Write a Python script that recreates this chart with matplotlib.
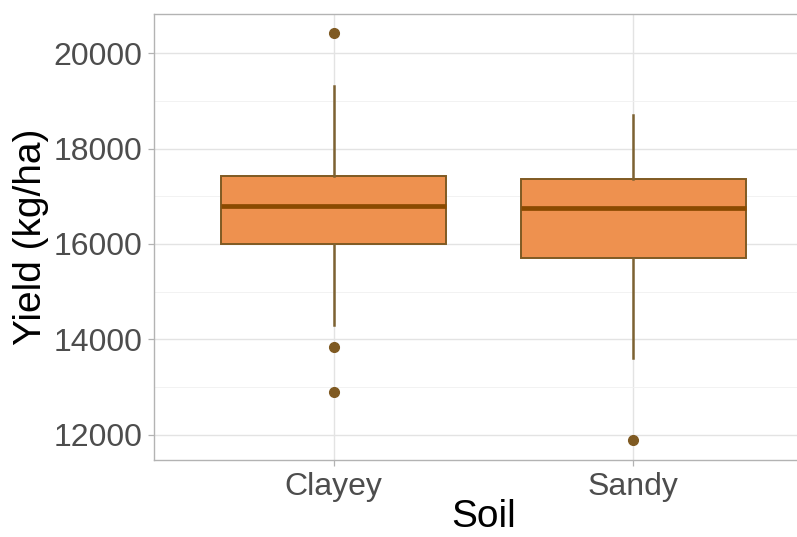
import matplotlib
matplotlib.use("Agg")
import matplotlib.pyplot as plt
from matplotlib.ticker import MultipleLocator

categories = ["Clayey", "Sandy"]
q1 = [16010, 15700]
median = [16790, 16750]
q3 = [17420, 17370]
whisker_low = [14300, 13610]
whisker_high = [19310, 18700]
outliers = [[20420, 13840, 12890], [11890]]
y_ticks = [12000, 14000, 16000, 18000, 20000]

plt.rcParams["font.family"] = ["Liberation Sans", "DejaVu Sans"]

fig = plt.figure(figsize=(7.97, 5.37), dpi=100)
W, H = 797, 537
left, right, top, bottom = 154, 813, 14, 460
ax = fig.add_axes([left / W, 1 - bottom / H, (right - left) / W, (bottom - top) / H])

fill = "#EE914F"
edge = "#7F5A22"
med_c = "#8A4A00"

stats = []
for i, c in enumerate(categories):
    stats.append(dict(label=c, med=median[i], q1=q1[i], q3=q3[i],
                      whislo=whisker_low[i], whishi=whisker_high[i], fliers=outliers[i]))

ax.bxp(stats, positions=[1, 2], widths=0.75, patch_artist=True, showcaps=False,
       boxprops=dict(facecolor=fill, edgecolor=edge, linewidth=1.4),
       medianprops=dict(color=med_c, linewidth=3.4, solid_capstyle="butt"),
       whiskerprops=dict(color="#7D6232", linewidth=1.8),
       flierprops=dict(marker="o", markerfacecolor=edge, markeredgecolor=edge, markersize=7),
       zorder=3)

ax.set_xlim(0.4, 2.6)
ax.set_ylim(11476, 20817)
ax.set_yticks(y_ticks)
ax.set_yticklabels([str(v) for v in y_ticks])
ax.yaxis.set_minor_locator(MultipleLocator(1000))
ax.set_xticks([1, 2])
ax.set_xticklabels(categories)

ax.grid(True, which="major", color="#E3E3E3", linewidth=1.0, zorder=0)
ax.grid(True, which="minor", axis="y", color="#F0F0F0", linewidth=0.6, zorder=0)
ax.set_axisbelow(True)

for s in ax.spines.values():
    s.set_color("#B3B3B3")
    s.set_linewidth(1.0)

ax.tick_params(axis="both", which="major", colors="#B3B3B3", labelcolor="#4D4D4D",
               labelsize=23, length=4.5, width=0.9, pad=4)
ax.tick_params(axis="y", which="minor", length=0)

ax.set_xlabel("Soil", fontsize=28, color="black", labelpad=-2)
ax.set_ylabel("Yield (kg/ha)", fontsize=28, color="black", labelpad=3)

fig.savefig("out.png", dpi=100)
